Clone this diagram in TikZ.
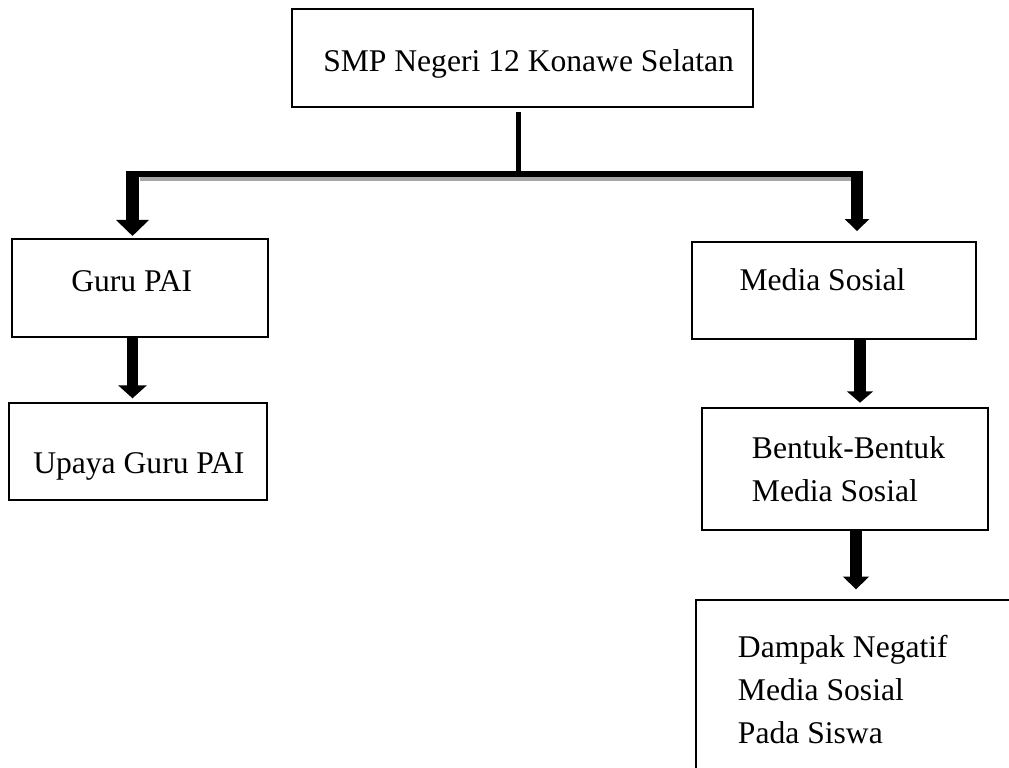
\documentclass[tikz,border=0pt]{standalone}
\usepackage{fontspec}
\setmainfont{Liberation Serif}
\usetikzlibrary{arrows.meta}
\begin{document}
\begin{tikzpicture}[x=0.75pt,y=-0.75pt,
  box/.style={draw=black,line width=1.5pt,fill=none,inner sep=0pt,outer sep=0pt,anchor=north west},
  lbl/.style={font=\fontsize{23.7pt}{32pt}\selectfont,inner sep=0pt,anchor=base west},
  fat/.style={line width=#1},
  arr/.style n args={3}{line width=#1,-{Triangle[width=#2,length=#3]}},
]
\useasboundingbox (0,0) rectangle (1009,767);

% boxes
\node[box,minimum width=345.75pt,minimum height=73.5pt] (top) at (292,9) {};
\node[box,minimum width=192pt,minimum height=73.5pt] (guru) at (11.7,239.3) {};
\node[box,minimum width=193pt,minimum height=73pt] (upaya) at (9.3,402.7) {};
\node[box,minimum width=213.2pt,minimum height=73.2pt] (media) at (691.7,241.7) {};
\node[box,minimum width=215pt,minimum height=91.7pt] (bentuk) at (701.7,407.7) {};
\begin{scope}
\clip (0,0) rectangle (1009,767);
\node[box,minimum width=300pt,minimum height=187.5pt] (dampak) at (695.7,600) {};
\end{scope}

% labels
\node[lbl] (ttop) at (323,71.7) {SMP Negeri 12 Konawe Selatan};
\node[lbl] (tguru) at (71,291) {Guru PAI};
\node[lbl] (tupaya) at (33,473.3) {Upaya Guru PAI};
\node[lbl] (tmedia) at (739.3,290.7) {Media Sosial};
\node[lbl] (tbentukA) at (751.7,458.3) {Bentuk-Bentuk};
\node[lbl] (tbentukB) at (751.7,501.7) {Media Sosial};
\node[lbl] (tdampakA) at (737.7,657.7) {Dampak Negatif};
\node[lbl] (tdampakB) at (737.7,700) {Media Sosial};
\node[lbl] (tdampakC) at (737.7,743.3) {Pada Siswa};

% bar coordinates
\coordinate (junction) at (518,175);
\coordinate (barL) at (126,173.7);
\coordinate (barR) at (863,173.7);
\coordinate (shL) at (140,178.7);
\coordinate (shR) at (852,178.7);
\coordinate (lTop) at (132.5,170.7);
\coordinate (rTop) at (857,170.7);
\coordinate (mbX) at (860,0);
\coordinate (bdX) at (856,0);

% connectors
\draw[fat=3.75pt] (junction |- top.south) ++(0,5) -- (junction);
\draw[fat=3pt,draw={rgb,255:red,166;green,166;blue,166}] (shL) -- (shR);
\draw[fat=4.5pt] (barL) -- (barR);
\draw[arr={10.2pt}{24pt}{12pt},shorten >=2.5pt] (lTop) -- (lTop |- guru.north);
\draw[arr={9pt}{18pt}{9pt},shorten >=8pt] (rTop) -- (rTop |- media.north);
\draw[arr={8.7pt}{21pt}{9.75pt},shorten >=3.3pt] (lTop |- guru.south) -- (lTop |- upaya.north);
\draw[arr={8.7pt}{19.2pt}{8.5pt},shorten >=3.75pt] (mbX |- media.south) -- (mbX |- bentuk.north);
\draw[arr={8.7pt}{19pt}{9.5pt},shorten >=8pt] (bdX |- bentuk.south) -- (bdX |- dampak.north);
\end{tikzpicture}
\end{document}
